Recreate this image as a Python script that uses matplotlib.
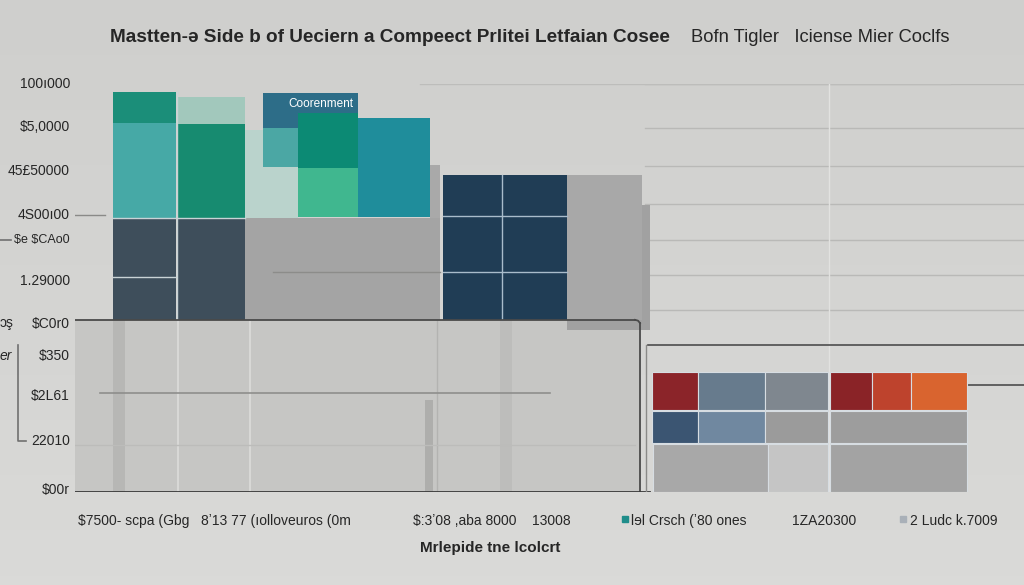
import matplotlib
matplotlib.use("Agg")
import matplotlib.pyplot as plt
import numpy as np

BG = "#d3d3d1"
INK = "#262626"
plt.rcParams["font.family"] = ["Liberation Sans", "DejaVu Sans"]
plt.rcParams["text.parse_math"] = False

# y-axis tick labels (as printed) and their values on the chart scale
tick_values = [100, 89.5, 78.7, 67.9, 61.8, 51.7, 41.2, 33.3, 23.5, 12.5, 0.5]
tick_labels = ["100ı000", "$5,0000", "45£50000", "4S00ı00", "$e $CAo0", "1.29000",
               "$C0r0", "$350", "$2L61", "22010", "$00r"]

# upper block group: left edge, width, base, height, colour (drawn in order)
top_left = [17.0, 35.5, 49.2, 49.2, 36.8,
            3.8, 10.2, 17.0,
            3.8, 3.8, 10.2, 10.2,
            18.8, 18.8, 22.3, 22.3, 28.3]
top_width = [5.3, 1.0, 8.3, 7.5, 12.4,
             6.3, 6.8, 19.5,
             6.3, 6.3, 6.8, 6.8,
             9.5, 3.5, 6.0, 6.0, 7.2]
top_base = [67.2, 67.2, 39.7, 42.2, 42.2,
            42.2, 42.2, 42.2,
            67.2, 90.4, 67.2, 90.2,
            79.7, 79.7, 79.4, 67.4, 67.4]
top_height = [21.5, 12.9, 30.6, 35.5, 35.5,
              25.0, 25.0, 25.0,
              23.2, 7.6, 23.0, 6.6,
              18.1, 9.5, 13.5, 12.0, 24.3]
top_colors = ["#bad3cc", "#a9a9a9", "#a1a1a1", "#a8a8a8", "#203d55",
              "#3e4e5b", "#3e4e5b", "#a4a4a4",
              "#46a9a6", "#1b8e79", "#178b70", "#a2c8bc",
              "#2d6d88", "#4ba7a4", "#0c8a74", "#40b78f", "#1f8d9b"]

# lower right group: three rows of cells
row_base = [20.1, 12.0, 0.0]
row_height = [9.3, 7.9, 11.8]
row_left = [[57.7, 62.3, 69.0, 75.5, 79.7, 83.6],
            [57.7, 62.3, 69.0, 75.5],
            [57.8, 69.3, 75.5]]
row_width = [[4.6, 6.7, 6.3, 4.2, 3.9, 5.6],
             [4.6, 6.7, 6.3, 13.7],
             [11.5, 6.0, 13.7]]
row_colors = [["#8b2429", "#677b8d", "#7f878f", "#8a2327", "#be432d", "#d9642f"],
              ["#3b5572", "#7088a0", "#9b9b9b", "#9d9d9d"],
              ["#a8a8a8", "#c5c5c5", "#a3a3a3"]]

bottom_labels = ["$7500- scpa (Gbg   8ʼ13 77 (ıolloveuros (0m",
                 "$:3ʼ08 ,aba 8000    13008",
                 "lɘl Crsch (ʼ80 ones",
                 "1ZA20300",
                 "2 Ludc k.7009"]


def main():
    fig = plt.figure(figsize=(10.24, 5.85), dpi=100)
    fig.patch.set_facecolor(BG)

    # soft vertical shading of the backdrop
    bg = fig.add_axes([0, 0, 1, 1], zorder=-10)
    shade = np.linspace(0, 1, 64).reshape(-1, 1)
    bg.imshow(shade, aspect="auto", extent=[0, 1, 0, 1],
              cmap=matplotlib.colors.LinearSegmentedColormap.from_list(
                  "bgshade", ["#cfcfcd", "#dadad8"]))
    bg.axis("off")

    ax = fig.add_axes([75 / 1024, 93 / 585, 949 / 1024, 408 / 585])
    ax.set_xlim(0, 94.9)
    ax.set_ylim(0, 100)
    ax.axis("off")

    # light grid on the right side
    for y in [100, 89.2, 79.9, 70.6, 61.8, 53.2, 44.6]:
        ax.plot([57.0, 94.9], [y, y], color="#b9b9b7", lw=1.0, zorder=0)
    ax.plot([34.5, 87.5], [100, 100], color="#bdbdbb", lw=1.0, zorder=0)
    ax.plot([75.4, 75.4], [0, 100], color="#e2e2e0", lw=1.0, zorder=0)

    # lower panel behind left group
    ax.bar(0, 42.2, width=56.5, bottom=0, align="edge", color="#c6c6c4",
           zorder=1)
    for x0, w, y0, h, c in [(3.8, 1.2, 0, 42.2, "#b7b7b5"),
                            (42.5, 1.2, 0, 42.2, "#bdbdbb"),
                            (35.0, 0.8, 0, 22.5, "#aeaeac")]:
        ax.bar(x0, h, width=w, bottom=y0, align="edge", color=c, zorder=1.5)
    for x in [10.3, 17.5]:
        ax.plot([x, x], [0, 42.2], color="#dcdcda", lw=1.2, zorder=1.6)
    ax.plot([36.2, 36.2], [0, 42.2], color="#b3b3b1", lw=1.0, zorder=1.6)
    ax.plot([2.5, 47.5], [24.3, 24.3], color="#8e8e8c", lw=1.2, zorder=1.6)
    ax.plot([0, 56.0], [11.5, 11.5], color="#bcbcba", lw=1.0, zorder=1.6)

    # upper blocks
    for i in range(len(top_left)):
        ax.bar(top_left[i], top_height[i], width=top_width[i],
               bottom=top_base[i], align="edge", color=top_colors[i],
               edgecolor="none", zorder=2 + i * 0.01)
    # thin light separators inside blocks
    ax.plot([3.8, 17.0], [67.2, 67.2], color="#c9d3d6", lw=1.0, zorder=3)
    ax.plot([3.8, 10.1], [52.7, 52.7], color="#c9d3d6", lw=1.0, zorder=3)
    ax.plot([10.15, 10.15], [42.2, 98.0], color="#c9d3d6", lw=1.0, zorder=3)
    ax.plot([36.8, 49.2], [67.6, 67.6], color="#a9bccb", lw=1.0, zorder=3)
    ax.plot([36.8, 49.2], [53.9, 53.9], color="#a9bccb", lw=1.0, zorder=3)
    ax.plot([42.7, 42.7], [42.2, 77.7], color="#a9bccb", lw=1.0, zorder=3)
    ax.plot([19.8, 36.5], [54.0, 54.0], color="#8c8c8a", lw=1.0, zorder=3)
    ax.text(27.8, 95.2, "Coorenment", color="white", fontsize=8.5,
            ha="right", va="center", zorder=4)

    # panel outline and axis lines
    ax.plot([-1.0, 56.0], [42.2, 42.2], color="#4a4a4a", lw=1.3, zorder=5)
    ax.plot([56.5, 56.5], [41.4, 0], color="#4a4a4a", lw=1.3, zorder=5)
    ax.plot([56.0, 56.3, 56.5], [42.2, 42.0, 41.4], color="#4a4a4a", lw=1.3,
            zorder=5)
    ax.plot([0, 57.5], [0, 0], color="#3a3a3a", lw=1.3, zorder=5)
    ax.plot([57.1, 57.1], [0, 36.0], color="#8a8a88", lw=1.0, zorder=5)
    ax.plot([57.3, 94.9], [36.0, 36.0], color="#4d4d4d", lw=1.2, zorder=5)
    ax.plot([89.2, 94.9], [26.2, 26.2], color="#4d4d4d", lw=1.2, zorder=5)
    ax.plot([0, 3.0], [67.9, 67.9], color="#8a8a88", lw=1.0, zorder=5)

    # right group cells
    for r in range(len(row_base)):
        for j in range(len(row_left[r])):
            ax.bar(row_left[r][j], row_height[r], width=row_width[r][j],
                   bottom=row_base[r], align="edge", color=row_colors[r][j],
                   edgecolor="#d7dde2", lw=0.8, zorder=6)

    # y tick labels
    for v, lab in zip(tick_values, tick_labels):
        size = 9 if lab.startswith("$e") else 10
        ax.text(-0.5, v, lab, ha="right", va="center", fontsize=size,
                color=INK, clip_on=False)

    # stray marks on the far left
    fig.text(0 / 1024, 1 - 323 / 585, "ɔş", fontsize=10, color=INK,
             va="center", ha="left")
    fig.text(0 / 1024, 1 - 356 / 585, "er", fontsize=10, color=INK,
             va="center", ha="left", style="italic")
    fig.add_artist(plt.Line2D([18 / 1024, 18 / 1024, 26 / 1024],
                              [1 - 345 / 585, 1 - 441 / 585, 1 - 441 / 585],
                              color="#707070", lw=1.2))
    fig.add_artist(plt.Line2D([0, 11 / 1024], [1 - 240 / 585, 1 - 240 / 585],
                              color="#707070", lw=1.2))

    # title
    fig.text(110 / 1024, 1 - 38 / 585,
             "Mastten-ə Side b of Ueciern a Compeect Prlitei Letfaian Cosee",
             fontsize=13.7, weight="bold", color=INK, va="center", ha="left")
    fig.text(691 / 1024, 1 - 38 / 585, "Bofn Tigler   Iciense Mier Coclfs",
             fontsize=13.2, color=INK, va="center", ha="left")

    # bottom labels and legend marks
    label_x = [78, 413, 631, 792, 910]
    for x, lab in zip(label_x, bottom_labels):
        fig.text(x / 1024, 1 - 521 / 585, lab, fontsize=10, color=INK,
                 va="center", ha="left")
    fig.add_artist(plt.Line2D([625 / 1024], [1 - 519 / 585], marker="s",
                              ms=5, color="#1f8d8a", lw=0))
    fig.add_artist(plt.Line2D([903 / 1024], [1 - 519 / 585], marker="s",
                              ms=5, color="#a9b0b8", lw=0))
    fig.text(490 / 1024, 1 - 548 / 585, "Mrlepide tne lcolcrt", fontsize=11,
             weight="bold", color=INK, va="center", ha="center")

    fig.savefig("out.png", dpi=100, facecolor=BG)


if __name__ == "__main__":
    main()
